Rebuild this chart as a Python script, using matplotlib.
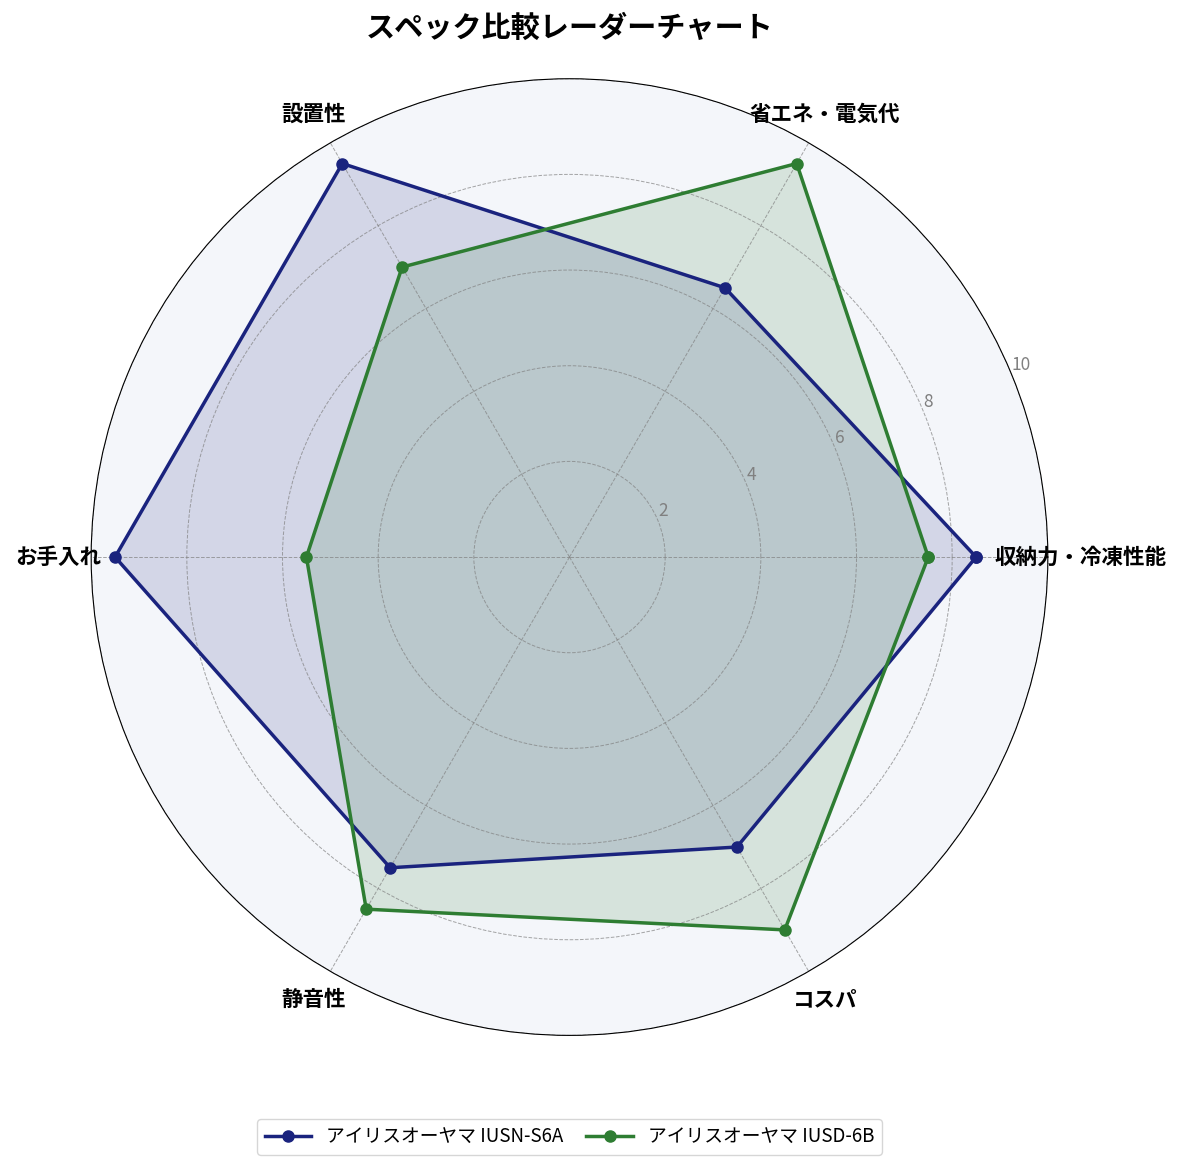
import matplotlib.pyplot as plt
import numpy as np

plt.rcParams['font.family'] = ['Noto Sans CJK JP', 'DejaVu Sans']

# データ
categories = ['収納力・冷凍性能', '省エネ・電気代', '設置性', 'お手入れ', '静音性', 'コスパ']
series_names = ['アイリスオーヤマ IUSN-S6A', 'アイリスオーヤマ IUSD-6B']
values_a = [8.5, 6.5, 9.5, 9.5, 7.5, 7.0]
values_b = [7.5, 9.5, 7.0, 5.5, 8.5, 9.0]
colors = ['#1a237e', '#2e7d32']

n = len(categories)
angles = np.linspace(0, 2 * np.pi, n, endpoint=False).tolist()
angles += angles[:1]

fig = plt.figure(figsize=(11.84, 11.74), dpi=100)
ax = fig.add_axes([0.077, 0.118, 0.808, 0.815], polar=True)
ax.set_facecolor('#f4f6fa')

for vals, name, c in zip([values_a, values_b], series_names, colors):
    v = vals + vals[:1]
    ax.plot(angles, v, color=c, linewidth=2.5, marker='o', markersize=8, label=name)
    ax.fill(angles, v, color=c, alpha=0.15)

ax.set_ylim(0, 10)
ax.set_yticks([2, 4, 6, 8, 10])
ax.set_yticklabels(['2', '4', '6', '8', '10'], color='gray', fontsize=12.5)
ax.set_rlabel_position(22.5)
ax.set_xticks(angles[:-1])
ax.set_xticklabels(categories, fontsize=15.5, fontweight='bold')
ax.tick_params(axis='x', pad=13)
ax.grid(color='gray', linestyle='--', linewidth=0.7, alpha=0.7)

# タイトルは軸の中心に合わせる
fig.text(0.481, 0.976, 'スペック比較レーダーチャート', fontsize=21, fontweight='bold',
         ha='center', va='center')

ax.legend(loc='lower center', bbox_to_anchor=(0.5, -0.135), ncol=2, fontsize=13.5,
          frameon=True, handlelength=2.5, columnspacing=1.2)

plt.savefig('out.png', dpi=100)
plt.close()
